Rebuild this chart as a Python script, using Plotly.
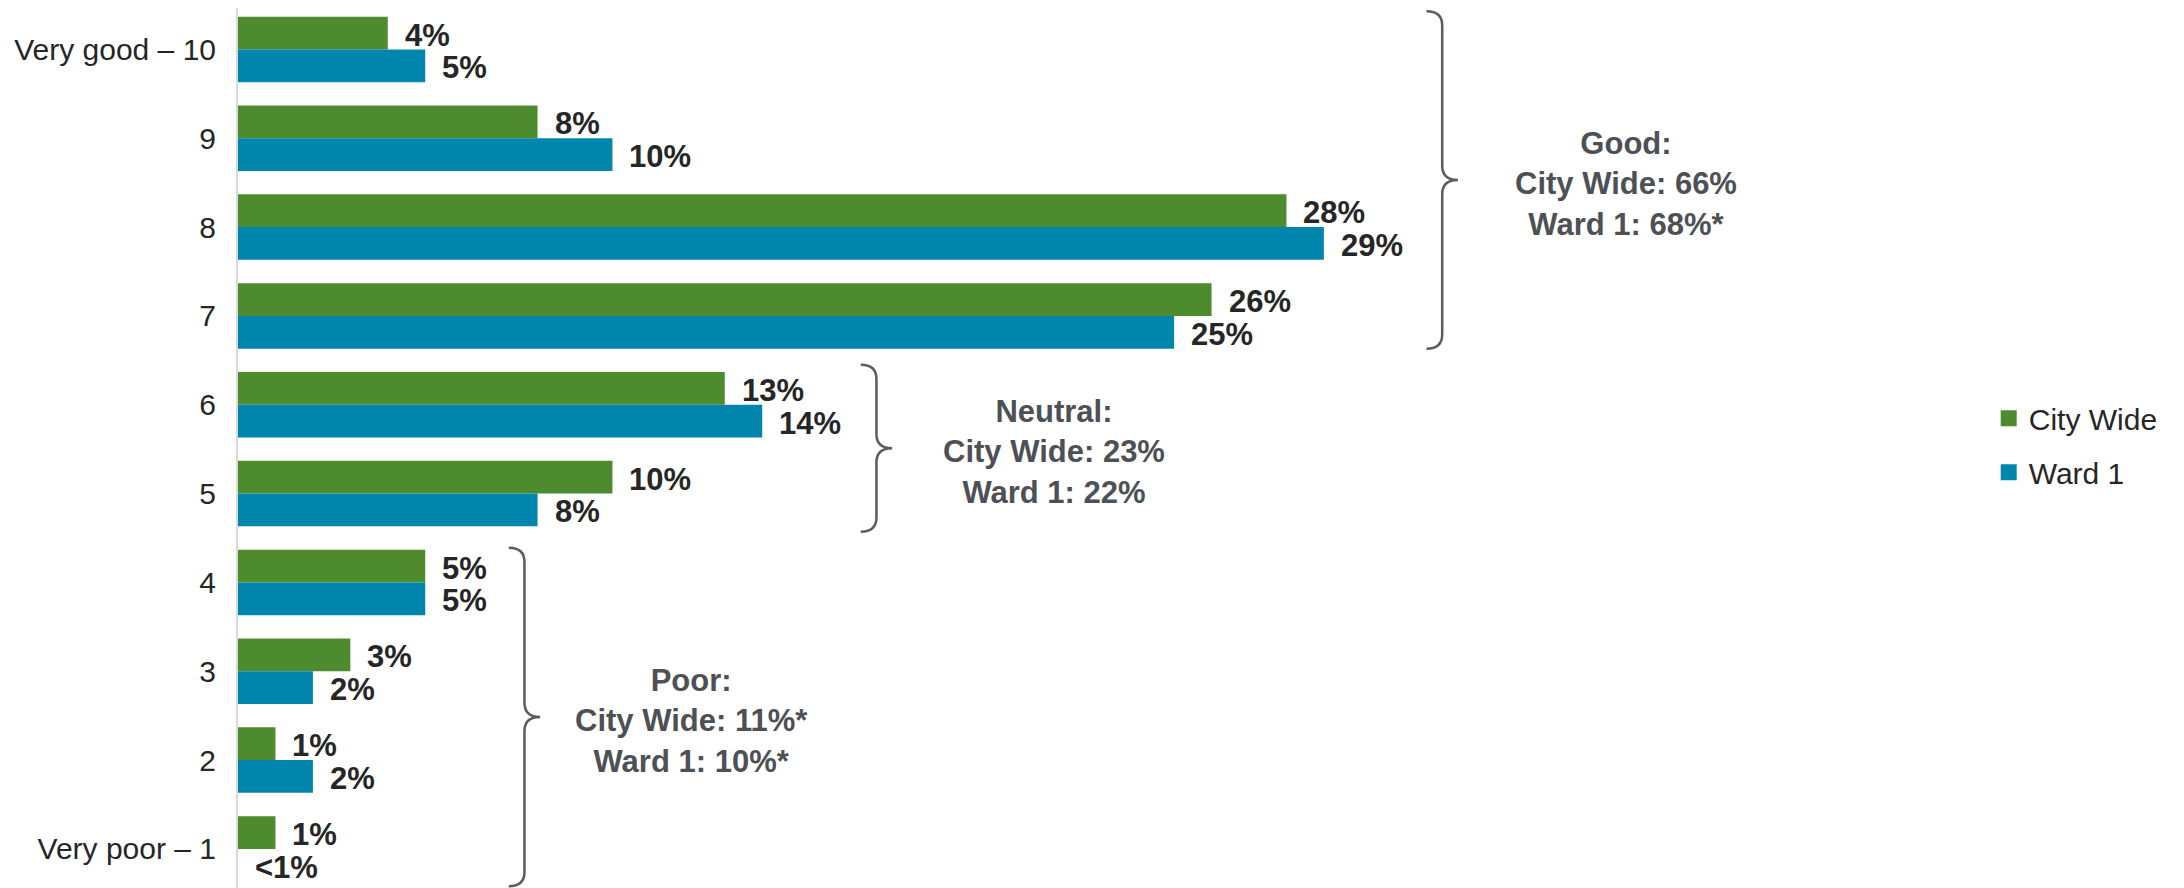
import plotly.graph_objects as go

# ---------------- data ----------------
categories = ["Very good – 10", "9", "8", "7", "6", "5", "4", "3", "2", "Very poor – 1"]
city_wide = [4, 8, 28, 26, 13, 10, 5, 3, 1, 1]
ward_1 = [5, 10, 29, 25, 14, 8, 5, 2, 2, 0]
series_names = ["City Wide", "Ward 1"]

group_texts = [
    "Good:<br>City Wide: 66%<br>Ward 1: 68%*",
    "Neutral:<br>City Wide: 23%<br>Ward 1: 22%",
    "Poor:<br>City Wide: 11%*<br>Ward 1: 10%*",
]
group_first = [0, 4, 6]
group_last = [3, 5, 9]

# ---------------- styling ----------------
GREEN = "#4E8B2E"
BLUE = "#0086AD"
FONT = "Liberation Sans, Arial, sans-serif"
LABEL_COLOR = "#262626"
GROUP_COLOR = "#4D5055"
BRACE_COLOR = "#5A5C60"

BARGAP = 0.263
half = (1 - BARGAP) / 4.0  # offset of each bar centre from category centre

ypos = list(range(len(categories)))


def pct_label(v):
    return f"{v}%" if v >= 1 else "<1%"


fig = go.Figure()
for name, vals, col in [(series_names[0], city_wide, GREEN), (series_names[1], ward_1, BLUE)]:
    fig.add_trace(go.Bar(
        name=name, x=vals, y=ypos, orientation="h",
        marker=dict(color=col, line=dict(width=0)),
        showlegend=False, hoverinfo="skip",
    ))
# legend entries (square swatches)
for name, col in [(series_names[0], GREEN), (series_names[1], BLUE)]:
    fig.add_trace(go.Scatter(
        name=name, x=[None], y=[None], mode="markers",
        marker=dict(symbol="square", size=17, color=col),
        legendgroup=name, showlegend=True, hoverinfo="skip",
    ))

annotations = []
for k, vals in enumerate([city_wide, ward_1]):
    off = -half if k == 0 else half
    for i, v in enumerate(vals):
        annotations.append(dict(
            x=v, y=i + off, xref="x", yref="y", text=pct_label(v),
            showarrow=False, xanchor="left", yanchor="middle", xshift=15, yshift=-2,
            font=dict(family=FONT, size=31, color=LABEL_COLOR, weight="bold"),
        ))

# brace geometry (in axis units)
brace_x = [32.16, 17.05, 7.65]
brace_pad_top = [0.43, 0.45, 0.39]
brace_pad_bot = [0.37, 0.43, 0.42]
text_dx = [4.9, 4.75, 4.45]
W = 0.42
R = 0.16

shapes = []
for g in range(3):
    xl = brace_x[g]
    top = group_first[g] - brace_pad_top[g]
    bot = group_last[g] + brace_pad_bot[g]
    mid = (top + bot) / 2.0
    path = (
        f"M {xl - W},{top} Q {xl},{top} {xl},{top + R} "
        f"L {xl},{mid - R} Q {xl},{mid} {xl + W},{mid} "
        f"Q {xl},{mid} {xl},{mid + R} "
        f"L {xl},{bot - R} Q {xl},{bot} {xl - W},{bot}"
    )
    shapes.append(dict(type="path", path=path, xref="x", yref="y",
                       line=dict(color=BRACE_COLOR, width=2.5)))
    annotations.append(dict(
        x=xl + text_dx[g], y=mid + 0.04, xref="x", yref="y", text=group_texts[g],
        showarrow=False, xanchor="center", yanchor="middle", align="center",
        font=dict(family=FONT, size=31, color=GROUP_COLOR, weight="bold"),
    ))

fig.update_layout(
    width=2176, height=880,
    margin=dict(l=230, r=261, t=0, b=0, pad=0, autoexpand=False),
    paper_bgcolor="white", plot_bgcolor="white",
    barmode="group", bargap=BARGAP, bargroupgap=0,
    font=dict(family=FONT, size=30, color=LABEL_COLOR),
    xaxis=dict(range=[0, 45], visible=False, fixedrange=True),
    yaxis=dict(
        range=[9.44, -0.466], tickmode="array", tickvals=ypos, ticktext=categories,
        showgrid=False, zeroline=False, showline=True, linecolor="#D9D9D9", linewidth=2,
        ticks="", ticklabelstandoff=14, automargin=False,
        tickfont=dict(family=FONT, size=30, color=LABEL_COLOR),
    ),
    legend=dict(
        x=1.039, y=0.503, xanchor="left", yanchor="middle",
        font=dict(family=FONT, size=30, color=LABEL_COLOR),
        traceorder="grouped", tracegroupgap=12, itemwidth=30,
        itemsizing="trace",
        bgcolor="rgba(0,0,0,0)",
    ),
    shapes=shapes,
    annotations=annotations,
    showlegend=True,
)

fig.write_html("out.html")
